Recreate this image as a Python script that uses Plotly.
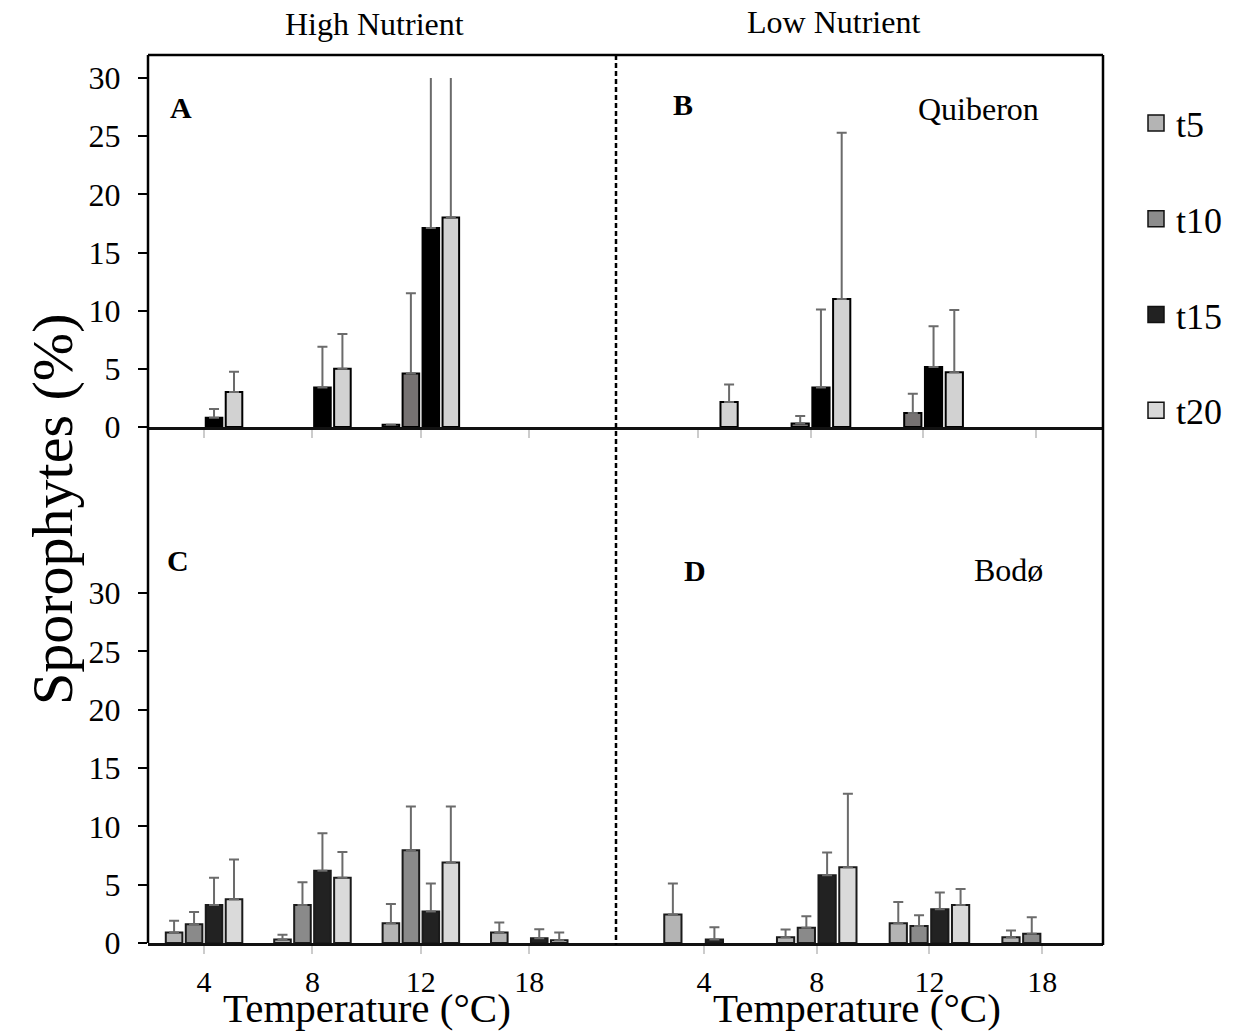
import plotly.graph_objects as go

# ---------------- data ----------------
temps = ["4", "8", "12", "18"]
series = ["t5", "t10", "t15", "t20"]

# Panel A: High nutrient, Quiberon
A_t5 = [None, None, 0.2, None]
A_t10 = [None, None, 4.6, None]
A_t15 = [0.8, 3.4, 17.1, None]
A_t20 = [3.0, 5.0, 18.0, None]
A_t5_err = [None, None, None, None]
A_t10_err = [None, None, 6.9, None]
A_t15_err = [0.75, 3.5, 15.0, None]
A_t20_err = [1.75, 3.0, 14.0, None]

# Panel B: Low nutrient, Quiberon
B_t5 = [None, None, None, None]
B_t10 = [None, 0.3, 1.2, None]
B_t15 = [None, 3.4, 5.15, None]
B_t20 = [2.15, 11.0, 4.7, None]
B_t5_err = [None, None, None, None]
B_t10_err = [None, 0.65, 1.65, None]
B_t15_err = [None, 6.7, 3.5, None]
B_t20_err = [1.5, 14.3, 5.35, None]

# Panel C: High nutrient, Bodø
C_t5 = [0.9, 0.3, 1.7, 0.9]
C_t10 = [1.6, 3.25, 7.95, None]
C_t15 = [3.25, 6.2, 2.7, 0.4]
C_t20 = [3.75, 5.6, 6.9, 0.23]
C_t5_err = [1.0, 0.4, 1.65, 0.85]
C_t10_err = [1.05, 1.95, 3.75, None]
C_t15_err = [2.35, 3.2, 2.4, 0.77]
C_t20_err = [3.4, 2.2, 4.8, 0.68]

# Panel D: Low nutrient, Bodø
D_t5 = [2.45, 0.5, 1.7, 0.5]
D_t10 = [None, 1.3, 1.45, 0.8]
D_t15 = [0.3, 5.8, 2.9, None]
D_t20 = [None, 6.5, 3.25, None]
D_t5_err = [2.65, 0.66, 1.82, 0.58]
D_t10_err = [None, 1.0, 0.93, 1.4]
D_t15_err = [1.06, 1.95, 1.42, None]
D_t20_err = [None, 6.3, 1.38, None]

ytick_vals = [0, 5, 10, 15, 20, 25, 30]

# ---------------- styling ----------------
FONT = "Liberation Serif, Times New Roman, serif"
W, H = 1237, 1033
top_colors = {"t5": "#b3b3b3", "t10": "#767272", "t15": "#000000", "t20": "#d2d2d2"}
bot_colors = {"t5": "#b4b4b4", "t10": "#8a8a8a", "t15": "#222222", "t20": "#dadada"}
legend_colors = {"t5": "#b4b4b4", "t10": "#8c8c8c", "t15": "#222222", "t20": "#d9d9d9"}


def px_x(p):
    return p / W


def px_y(p):
    return 1 - p / H


panels = [
    ("x", "y", [A_t5, A_t10, A_t15, A_t20], [A_t5_err, A_t10_err, A_t15_err, A_t20_err], top_colors, "#000000"),
    ("x2", "y2", [B_t5, B_t10, B_t15, B_t20], [B_t5_err, B_t10_err, B_t15_err, B_t20_err], top_colors, "#000000"),
    ("x3", "y3", [C_t5, C_t10, C_t15, C_t20], [C_t5_err, C_t10_err, C_t15_err, C_t20_err], bot_colors, "#1a1a1a"),
    ("x4", "y4", [D_t5, D_t10, D_t15, D_t20], [D_t5_err, D_t10_err, D_t15_err, D_t20_err], bot_colors, "#1a1a1a"),
]

fig = go.Figure()
for xa, ya, vals, errs, cols, edge in panels:
    for name, v, e in zip(series, vals, errs):
        fig.add_trace(go.Bar(
            x=temps, y=v, name=name, xaxis=xa, yaxis=ya, showlegend=False,
            marker=dict(color=cols[name], line=dict(color=edge, width=2)),
            error_y=dict(type="data", array=e, arrayminus=[0] * len(e), symmetric=False,
                         color="#6b6b6b", thickness=2, width=5),
        ))

# legend entries
for i, name in enumerate(series):
    fig.add_trace(go.Scatter(
        x=[None], y=[None], mode="markers", name=name, legendgroup=name,
        marker=dict(symbol="square", size=18, color=legend_colors[name],
                    line=dict(color="#111111", width=1.5)),
        xaxis="x", yaxis="y", showlegend=True,
    ))

xL = [px_x(148), px_x(616)]
xR = [px_x(616), px_x(1103)]
yT = [px_y(427), px_y(78)]
yB = [px_y(943), px_y(593)]

common_x = dict(type="category", showgrid=False, zeroline=False, showline=True,
                linecolor="#111111", linewidth=2.5, ticks="outside", ticklen=8,
                tickcolor="#cccccc", tickwidth=1.5, fixedrange=True,
                tickfont=dict(family=FONT, size=30, color="#000000"),
                ticklabelstandoff=2, automargin=False)
common_y = dict(range=[0, 30], showgrid=False, zeroline=False, showline=False,
                tickvals=ytick_vals, ticks="outside", ticklen=9, tickwidth=2,
                tickcolor="#000000", tickfont=dict(family=FONT, size=32, color="#000000"),
                ticklabelstandoff=11, fixedrange=True, automargin=False)

fig.update_layout(
    width=W, height=H,
    margin=dict(l=0, r=0, t=0, b=0, autoexpand=False),
    paper_bgcolor="white", plot_bgcolor="rgba(0,0,0,0)",
    barmode="group", bargap=0.263, bargroupgap=0.17,
    font=dict(family=FONT, color="#000000"),
    xaxis=dict(common_x, domain=xL, anchor="y", range=[-0.517, 3.80], showticklabels=False),
    xaxis2=dict(common_x, domain=xR, anchor="y2", range=[-0.728, 3.597], showticklabels=False),
    xaxis3=dict(common_x, domain=xL, anchor="y3", range=[-0.517, 3.80]),
    xaxis4=dict(common_x, domain=xR, anchor="y4", range=[-0.781, 3.54]),
    yaxis=dict(common_y, domain=yT, anchor="x"),
    yaxis2=dict(common_y, domain=yT, anchor="x2", showticklabels=False, ticks=""),
    yaxis3=dict(common_y, domain=yB, anchor="x3"),
    yaxis4=dict(common_y, domain=yB, anchor="x4", showticklabels=False, ticks=""),
    legend=dict(x=px_x(1136), y=px_y(93), xanchor="left", yanchor="top",
                font=dict(family=FONT, size=36, color="#000000"),
                bgcolor="rgba(0,0,0,0)", tracegroupgap=46, itemwidth=30,
                traceorder="grouped"),
)

# frame lines
frame = [
    dict(x0=px_x(148), x1=px_x(148), y0=px_y(55), y1=px_y(943), width=2.5, dash="solid"),
    dict(x0=px_x(148), x1=px_x(1103), y0=px_y(55), y1=px_y(55), width=2.5, dash="solid"),
    dict(x0=px_x(1103), x1=px_x(1103), y0=px_y(55), y1=px_y(945), width=2.5, dash="solid"),
    dict(x0=px_x(616), x1=px_x(616), y0=px_y(55), y1=px_y(945), width=2.5, dash="5px,3px"),
]
for f in frame:
    fig.add_shape(type="line", xref="paper", yref="paper", x0=f["x0"], x1=f["x1"],
                  y0=f["y0"], y1=f["y1"], line=dict(color="#000000", width=f["width"], dash=f["dash"]))

# texts
texts = [
    ("High Nutrient", 374, 24, 32, False),
    ("Low Nutrient", 833, 22, 32, False),
    ("A", 181, 107, 30, True),
    ("B", 683, 104, 30, True),
    ("C", 178, 560, 30, True),
    ("D", 695, 570, 30, True),
    ("Quiberon", 978, 109, 32, False),
    ("Bodø", 1009, 570, 32, False),
    ("Temperature (°C)", 367, 1008, 41, False),
    ("Temperature (°C)", 857, 1008, 41, False),
]
for t, x, y, s, b in texts:
    fig.add_annotation(text=f"<b>{t}</b>" if b else t, xref="paper", yref="paper",
                       x=px_x(x), y=px_y(y), xanchor="center", yanchor="middle",
                       showarrow=False, font=dict(family=FONT, size=s, color="#000000"))

fig.add_annotation(text="Sporophytes (%)", xref="paper", yref="paper",
                   x=px_x(53), y=px_y(510), xanchor="center", yanchor="middle",
                   textangle=-90, showarrow=False,
                   font=dict(family=FONT, size=58, color="#000000"))

fig.write_html("out.html")
